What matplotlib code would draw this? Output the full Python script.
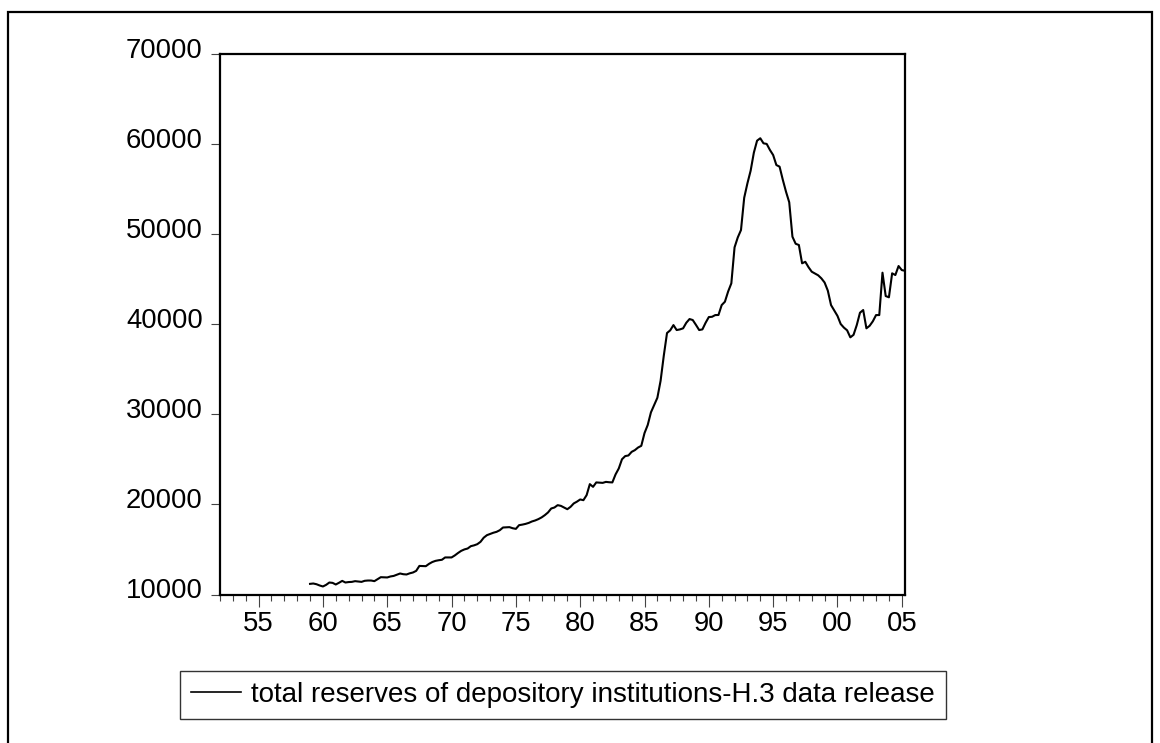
import matplotlib
matplotlib.use("Agg")
import matplotlib.pyplot as plt
import matplotlib.transforms as mtransforms
from matplotlib.patches import Rectangle
import numpy as np
import pandas as pd

plt.rcParams['font.family'] = ['Liberation Sans', 'DejaVu Sans']

# --- Data: quarterly total reserves, 1959Q1 onwards ---
start_quarter = "1959Q1"
reserves = [
    11180, 11220, 11140, 11000,   # 1959
    10890, 11070, 11330, 11290,   # 1960
    11110, 11300, 11510, 11330,   # 1961
    11380, 11400, 11480, 11440,   # 1962
    11400, 11520, 11550, 11550,   # 1963
    11480, 11700, 11920, 11900,   # 1964
    11890, 12000, 12060, 12200,   # 1965
    12330, 12250, 12220, 12350,   # 1966
    12440, 12620, 13170, 13150,   # 1967
    13140, 13400, 13600, 13730,   # 1968
    13800, 13850, 14110, 14110,   # 1969
    14110, 14330, 14600, 14840,   # 1970
    15000, 15100, 15360, 15450,   # 1971
    15580, 15840, 16300, 16580,   # 1972
    16720, 16850, 16950, 17130,   # 1973
    17430, 17450, 17470, 17350,   # 1974
    17280, 17690, 17750, 17830,   # 1975
    17940, 18100, 18210, 18360,   # 1976
    18550, 18800, 19100, 19540,   # 1977
    19650, 19910, 19830, 19650,   # 1978
    19460, 19720, 20100, 20300,   # 1979
    20540, 20460, 21020, 22240,   # 1980
    21940, 22430, 22400, 22380,   # 1981
    22490, 22450, 22430, 23320,   # 1982
    23980, 25000, 25350, 25420,   # 1983
    25820, 26010, 26300, 26490,   # 1984
    27900, 28800, 30200, 31000,   # 1985
    31820, 33700, 36500, 39000,   # 1986
    39300, 39880, 39330, 39400,   # 1987
    39520, 40140, 40550, 40440,   # 1988
    39900, 39330, 39400, 40140,   # 1989
    40770, 40800, 40990, 41000,   # 1990
    42100, 42470, 43600, 44510,   # 1991
    48500, 49600, 50420, 54000,   # 1992
    55600, 57000, 59000, 60330,   # 1993
    60600, 60040, 59970, 59300,   # 1994
    58740, 57630, 57450, 56000,   # 1995
    54670, 53500, 49680, 48900,   # 1996
    48760, 46730, 46900, 46300,   # 1997
    45800, 45600, 45400, 45060,   # 1998
    44600, 43700, 42100, 41500,   # 1999
    40900, 40000, 39600, 39300,   # 2000
    38520, 38800, 39880, 41250,   # 2001
    41550, 39520, 39800, 40300,   # 2002
    40990, 40990, 45690, 43100,   # 2003
    42960, 45620, 45430, 46430,   # 2004
    45980, 45900,                 # 2005
]
series_label = "total reserves of depository institutions-H.3 data release"

y_ticks = [10000, 20000, 30000, 40000, 50000, 60000, 70000]
x_major_years = list(range(1955, 2006, 5))
x_minor_years = list(range(1952, 2006))

periods = pd.period_range(start_quarter, periods=len(reserves), freq="Q")
x_dec = periods.year + (periods.quarter - 1) / 4.0

# --- Figure ---
fig = plt.figure(figsize=(11.6, 7.43), dpi=100)
ax = fig.add_axes([220 / 1160, 1 - 594.5 / 743, 685 / 1160, 541 / 743])

line, = ax.plot(x_dec, reserves, color="black", lw=1.5, label=series_label)

ax.set_xlim(1952, 2005.25)
ax.set_ylim(10000, 70000)

ax.set_yticks(y_ticks)
ax.set_yticklabels([str(v) for v in y_ticks])
ax.set_xticks(x_major_years)
ax.set_xticklabels([f"{y % 100:02d}" for y in x_major_years])
ax.set_xticks(x_minor_years, minor=True)

for sp in ax.spines.values():
    sp.set_linewidth(1.6)
    sp.set_color("black")

ax.tick_params(axis="y", direction="out", length=6.5, width=0.8,
               color="#444444", labelsize=19.8, pad=6.0)
ax.tick_params(axis="x", which="major", direction="out", length=8.5,
               width=0.8, color="#444444", labelsize=19.8, pad=3.5)
ax.tick_params(axis="x", which="minor", direction="out", length=4.5,
               width=0.8, color="#444444")

# y labels sit a little above their ticks
shift = mtransforms.ScaledTranslation(0, 0.06, fig.dpi_scale_trans)
for lab in ax.get_yticklabels():
    lab.set_transform(lab.get_transform() + shift)

# outer frame around the whole graph
fig.patches.append(Rectangle((8 / 1160, -0.02), 1144 / 1160, 1.02 - 12 / 743,
                             transform=fig.transFigure, fill=False,
                             edgecolor="black", lw=1.6))

leg = fig.legend(handles=[line], loc="center",
                 bbox_to_anchor=(563 / 1160, 1 - 695 / 743),
                 fontsize=20, frameon=True, fancybox=False,
                 handlelength=1.8, handletextpad=0.36, borderpad=0.4,
                 borderaxespad=0)
leg.get_frame().set_edgecolor("black")
leg.get_frame().set_linewidth(1.0)
leg.get_lines()[0].set_linewidth(1.2)

fig.savefig("out.png", dpi=100)
